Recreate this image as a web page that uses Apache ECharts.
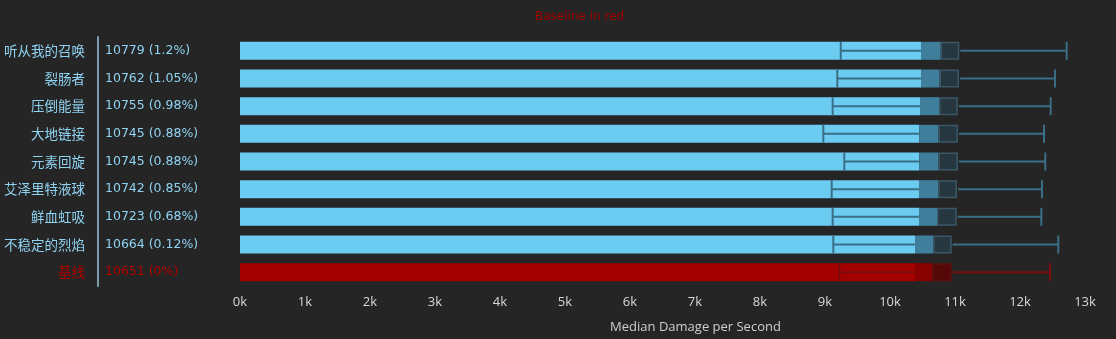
<!DOCTYPE html>
<html>
<head>
<meta charset="utf-8">
<script src="https://cdn.jsdelivr.net/npm/echarts@6/dist/echarts.min.js"></script>
<style>
    html, body {margin: 0; padding: 0; background: #252525;}
    #main {width: 1116px; height: 339px;}
</style>
</head>
<body>
<div id="main"></div>
<script>
    // 数据
    const names = ['听从我的召唤', '裂肠者', '压倒能量', '大地链接', '元素回旋', '艾泽里特液球', '鲜血虹吸', '不稳定的烈焰', '基线'];
    const medians = [10779, 10762, 10755, 10745, 10745, 10742, 10723, 10664, 10651];
    const pcts = ['1.2%', '1.05%', '0.98%', '0.88%', '0.88%', '0.85%', '0.68%', '0.12%', '0%'];
    const q1s = [10477, 10485, 10462, 10451, 10451, 10446, 10446, 10385, 10385];
    const q3s = [11066, 11062, 11042, 11046, 11046, 11031, 11026, 10949, 10949];
    const lows = [9242, 9189, 9118, 8974, 9297, 9103, 9118, 9128, 9220];
    const highs = [12718, 12538, 12472, 12369, 12389, 12338, 12328, 12589, 12462];
    const xTicks = ['0k', '1k', '2k', '3k', '4k', '5k', '6k', '7k', '8k', '9k', '10k', '11k', '12k', '13k'];
    const baseIdx = names.length - 1;

    const blue = {bar: '#6ccbf0', mid: '#3f7f9c', dark: '#263740', border: '#3b5868', whisker: '#3a6f87', text: '#8fd3f2'};
    const red = {bar: '#a30000', mid: '#880000', dark: '#560808', border: '#5e1010', whisker: '#7c0c0c', text: '#b00000'};

    function pal(i) {
        return i === baseIdx ? red : blue;
    }

    let myChart = echarts.init(document.getElementById('main'));
    let option = {
        backgroundColor: '#252525',
        animation: false,
        title: {
            text: 'Baseline in red',
            left: 530,
            top: 6,
            textStyle: {color: '#a00000', fontSize: 12, fontWeight: 'normal', fontFamily: 'DejaVu Sans'}
        },
        grid: {left: 240, right: 31, top: 37, bottom: 53},
        xAxis: {
            type: 'value',
            min: 0,
            max: 13000,
            interval: 1000,
            name: 'Median Damage per Second',
            nameLocation: 'middle',
            nameGap: 35,
            nameTextStyle: {color: '#cfcfcf', fontSize: 13, fontFamily: 'Open Sans', padding: [0, 0, 0, 66]},
            axisLine: {show: false},
            axisTick: {show: false},
            splitLine: {show: false},
            axisLabel: {
                color: '#d8d8d8',
                fontSize: 13,
                fontFamily: 'Open Sans',
                margin: 10,
                formatter: function (v) {
                    return xTicks[Math.round(v / 1000)];
                }
            }
        },
        yAxis: [{
            // 数值列
            type: 'category',
            inverse: true,
            data: names,
            axisLine: {show: false},
            axisTick: {show: false},
            axisLabel: {
                margin: 135,
                align: 'left',
                fontSize: 12.5,
                fontFamily: 'DejaVu Sans',
                color: function (v, i) {
                    return pal(i).text;
                },
                formatter: function (v, i) {
                    return medians[i] + ' (' + pcts[i] + ')';
                }
            }
        }, {
            // 名称列 + 分隔竖线
            type: 'category',
            inverse: true,
            position: 'left',
            offset: 142,
            data: names,
            axisLine: {show: true, lineStyle: {color: '#7d9dae', width: 2}},
            axisTick: {show: false},
            axisLabel: {
                margin: 13,
                fontSize: 13.5,
                fontFamily: 'Noto Sans CJK SC',
                color: function (v, i) {
                    return pal(i).text;
                }
            }
        }],
        series: [
            {
                name: 'base',
                type: 'bar',
                stack: 'box',
                barWidth: 18,
                data: q1s.map((v, i) => ({value: v, itemStyle: {color: pal(i).bar}}))
            },
            {
                name: 'lower',
                type: 'bar',
                stack: 'box',
                barWidth: 18,
                data: medians.map((v, i) => ({value: v - q1s[i], itemStyle: {color: pal(i).mid}}))
            },
            {
                name: 'upper',
                type: 'bar',
                stack: 'box',
                barWidth: 18,
                data: q3s.map((v, i) => ({
                    value: v - medians[i],
                    itemStyle: {color: pal(i).dark, borderColor: pal(i).border, borderWidth: 1.5}
                }))
            },
            {
                name: 'whisker',
                type: 'custom',
                z: 5,
                data: names.map((n, i) => [i, lows[i], q1s[i], q3s[i], highs[i]]),
                renderItem: function (params, api) {
                    const i = api.value(0);
                    const y = api.coord([0, i])[1];
                    const pLo = api.coord([api.value(1), i])[0];
                    const pQ1 = api.coord([api.value(2), i])[0];
                    const pQ3 = api.coord([api.value(3), i])[0];
                    const pHi = api.coord([api.value(4), i])[0];
                    const h = 9;
                    const st = {stroke: pal(i).whisker, lineWidth: 2};
                    return {
                        type: 'group',
                        children: [
                            {type: 'line', shape: {x1: pLo, y1: y, x2: pQ1, y2: y}, style: st},
                            {type: 'line', shape: {x1: pQ3 + 1, y1: y, x2: pHi, y2: y}, style: st},
                            {type: 'line', shape: {x1: pLo, y1: y - h, x2: pLo, y2: y + h}, style: st},
                            {type: 'line', shape: {x1: pHi, y1: y - h, x2: pHi, y2: y + h}, style: st}
                        ]
                    };
                }
            }
        ]
    };
    myChart.setOption(option);
</script>
</body>
</html>
